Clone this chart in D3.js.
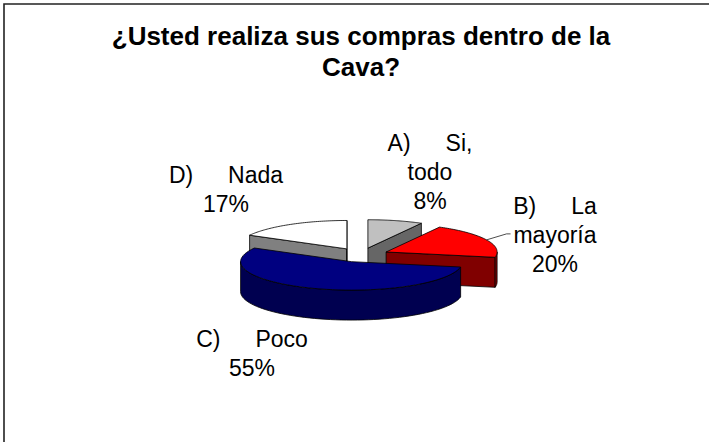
<!DOCTYPE html>
<html><head><meta charset="utf-8">
<script src="https://d3js.org/d3.v7.min.js"></script>
<style>html,body{margin:0;padding:0;background:#fff}svg{display:block}text{font-family:"Liberation Sans",Arial,sans-serif;fill:#000;white-space:pre}</style>
</head><body><script>
const categories = ["A)     Si, todo", "B)     La mayoría", "C)     Poco", "D)     Nada"];
const values = [8, 20, 55, 17];
const topColors = ["#c0c0c0", "#ff0000", "#000080", "#ffffff"];
const wallColors = ["#666666", "#800000", "#000050", "#808080"];
const labelLines = [["A)     Si,", "todo", "8%"], ["B)     La", "mayoría", "20%"], ["C)     Poco", "55%"], ["D)     Nada", "17%"]];
const titleLines = ["¿Usted realiza sus compras dentro de la", "Cava?"];

const W = 709, H = 442;
const cx = 361, cy = 255, rx = 111, ry = 28.4, depth = 30, explode = 0.25;
const labelAt = [[430, 151], [555, 214], [252, 347], [226, 183]];
const lineGap = 28.8;

const svg = d3.select("body").append("svg").attr("width", W).attr("height", H);
svg.append("path").attr("d", d3.line()([[4, H], [4, 4], [W, 4]]))
  .attr("fill", "none").attr("stroke", "#222").attr("stroke-width", 1.6);

svg.selectAll("text.title").data(titleLines).join("text").attr("class", "title")
  .attr("x", 361).attr("y", (d, i) => 45 + i * 30.5).attr("text-anchor", "middle")
  .attr("font-size", 26).attr("font-weight", "bold").text(d => d);

const X = d3.scaleLinear().domain([-1, 1]).range([cx - rx, cx + rx]);
const Y = d3.scaleLinear().domain([-1, 1]).range([cy - ry, cy + ry]);
const line = d3.line();
const slices = d3.pie().sort(null).value(d => d)(values).map((s, i) => {
  const mid = (s.startAngle + s.endAngle) / 2;
  return { ...s, i, ox: X(explode * Math.sin(mid)) - X(0), oy: Y(-explode * Math.cos(mid)) - Y(0) };
});
const pt = (s, a, dz = 0) => [X(Math.sin(a)) + s.ox, Y(-Math.cos(a)) + s.oy + dz];
const apex = (s, dz = 0) => [X(0) + s.ox, Y(0) + s.oy + dz];
const rim = (s, a0, a1, dz = 0) => d3.range(0, 61).map(k => pt(s, a0 + (a1 - a0) * k / 60, dz));
const stroke = g => g.attr("stroke", "#000").attr("stroke-width", 0.8).attr("stroke-linejoin", "round");

function drawSlice(s) {
  const g = svg.append("g").call(stroke);
  const a0 = s.startAngle, a1 = s.endAngle, wall = wallColors[s.i];
  // radial side walls, visible when they face the viewer
  [a0, a1].forEach(a => {
    const facing = a === a0 ? Math.cos(a) > 0 && Math.sin(a) < 0 || (Math.cos(a) < 0 && Math.sin(a) < 0)
                            : Math.sin(a) > 0;
    if (facing && a !== 0 && a !== 2 * Math.PI)
      g.append("path").attr("fill", wall)
        .attr("d", line([apex(s), pt(s, a), pt(s, a, depth), apex(s, depth)]) + "Z");
  });
  // outer rim wall: lower half of the ellipse
  const lo = Math.max(a0, Math.PI / 2), hi = Math.min(a1, 3 * Math.PI / 2);
  if (hi > lo)
    g.append("path").attr("fill", wall)
      .attr("d", line([...rim(s, lo, hi), ...rim(s, hi, lo, depth)]) + "Z");
  g.append("path").attr("fill", topColors[s.i])
    .attr("d", line([apex(s), ...rim(s, a0, a1)]) + "Z");
}
// back to front
[0, 3, 1, 2].forEach(i => drawSlice(slices[i]));

// leader line for B
const lead = slices[1], leadA = (lead.startAngle + lead.endAngle) / 2;
const leadStart = pt(lead, leadA);
svg.append("path").attr("fill", "none").attr("stroke", "#000").attr("stroke-width", 0.7)
  .attr("d", line([leadStart, [leadStart[0] + 20, leadStart[1] - 6], [leadStart[0] + 24, leadStart[1] - 6]]));

labelLines.forEach((lines, i) => {
  svg.selectAll("text.l" + i).data(lines).join("text").attr("class", "l" + i)
    .attr("x", labelAt[i][0]).attr("y", (d, k) => labelAt[i][1] + k * lineGap)
    .attr("text-anchor", "middle").attr("font-size", 23).attr("word-spacing", 0.6).text(d => d);
});
</script></body></html>
